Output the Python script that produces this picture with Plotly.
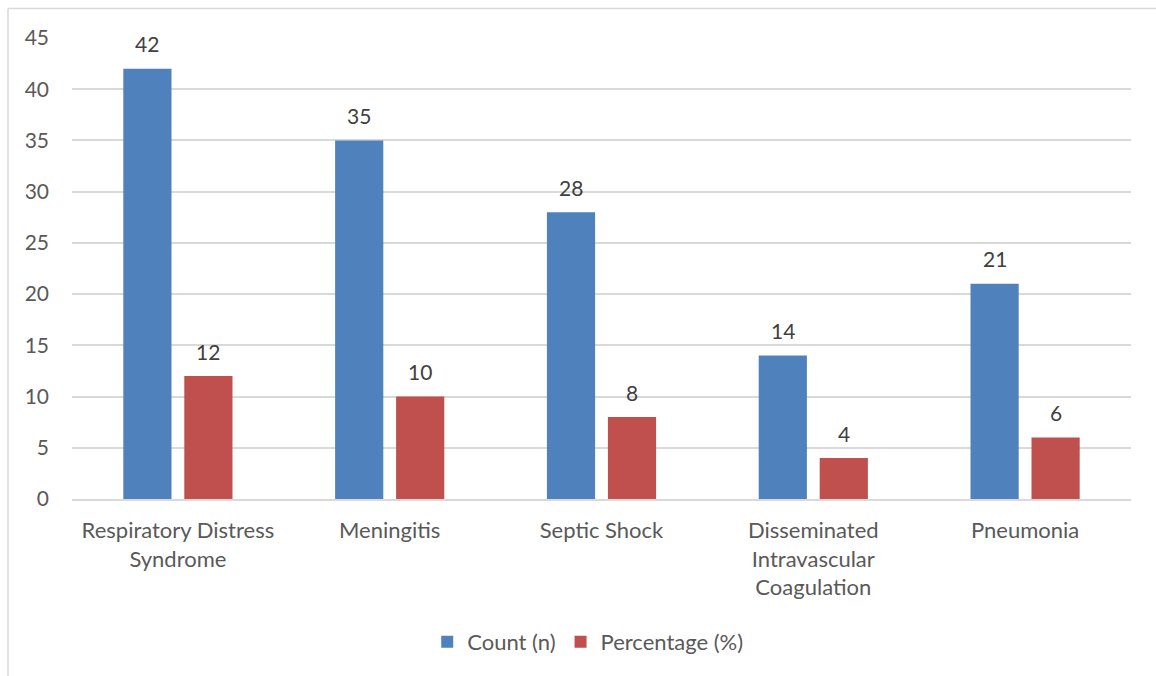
import plotly.graph_objects as go

categories = [
    "Respiratory Distress<br>Syndrome",
    "Meningitis",
    "Septic Shock",
    "Disseminated<br>Intravascular<br>Coagulation",
    "Pneumonia",
]
count_n = [42, 35, 28, 14, 21]
percentage = [12, 10, 8, 4, 6]
y_ticks = [0, 5, 10, 15, 20, 25, 30, 35, 40, 45]

BLUE = "#4F81BD"
RED = "#C0504D"
GRID = "#D9D9D9"
TEXT = "#595959"
FONT = "Lato"

W, H = 1156, 676
ML, MR, MT, MB = 72, 25, 38, 177

fig = go.Figure()
fig.add_trace(go.Bar(name="Count (n)", x=categories, y=count_n,
                     marker=dict(color=BLUE, line=dict(width=0))))
fig.add_trace(go.Bar(name="Percentage (%)", x=categories, y=percentage,
                     marker=dict(color=RED, line=dict(width=0))))

# value labels above each bar
slot = 0.288  # fraction of category band per bar slot
band_px = (W - ML - MR) / len(categories)
for vals, side in ((count_n, -1), (percentage, 1)):
    for cat, v in zip(categories, vals):
        fig.add_annotation(x=cat, y=v, text=str(v), showarrow=False,
                           xshift=side * slot / 2 * band_px, yshift=25,
                           yanchor="middle",
                           font=dict(family=FONT, size=21, color="#404040"))

# outer chart frame (top and left edges visible)
pw, ph = W - ML - MR, H - MT - MB
def px_x(px):
    return (px - ML) / pw
def px_y(py):
    return (H - MB - py) / ph
fig.add_shape(type="line", xref="paper", yref="paper",
              x0=px_x(8), x1=px_x(W + 5), y0=px_y(8.5), y1=px_y(8.5),
              line=dict(color=GRID, width=1.5))
fig.add_shape(type="line", xref="paper", yref="paper",
              x0=px_x(8), x1=px_x(8), y0=px_y(8.5), y1=px_y(H + 5),
              line=dict(color=GRID, width=1.5))

fig.update_layout(
    width=W, height=H,
    margin=dict(l=ML, r=MR, t=MT, b=MB),
    paper_bgcolor="white", plot_bgcolor="white",
    barmode="group", bargap=0.424, bargroupgap=0.21,
    font=dict(family=FONT, size=20, color=TEXT),
    showlegend=True,
    legend=dict(orientation="h", x=0.487, xanchor="center",
                y=px_y(642), yanchor="middle",
                font=dict(family=FONT, size=22, color=TEXT),
                itemwidth=30),
    xaxis=dict(showgrid=False, showline=True, linecolor=GRID, linewidth=1.5,
               ticks="", tickfont=dict(family=FONT, size=22, color=TEXT),
               ticklabelstandoff=11),
    yaxis=dict(range=[0, 45], tickvals=y_ticks, showgrid=True,
               gridcolor=GRID, gridwidth=1.5, zeroline=False, showline=False,
               ticks="", tickfont=dict(family=FONT, size=21, color=TEXT),
               ticklabelstandoff=22),
)

fig.write_html("out.html")
